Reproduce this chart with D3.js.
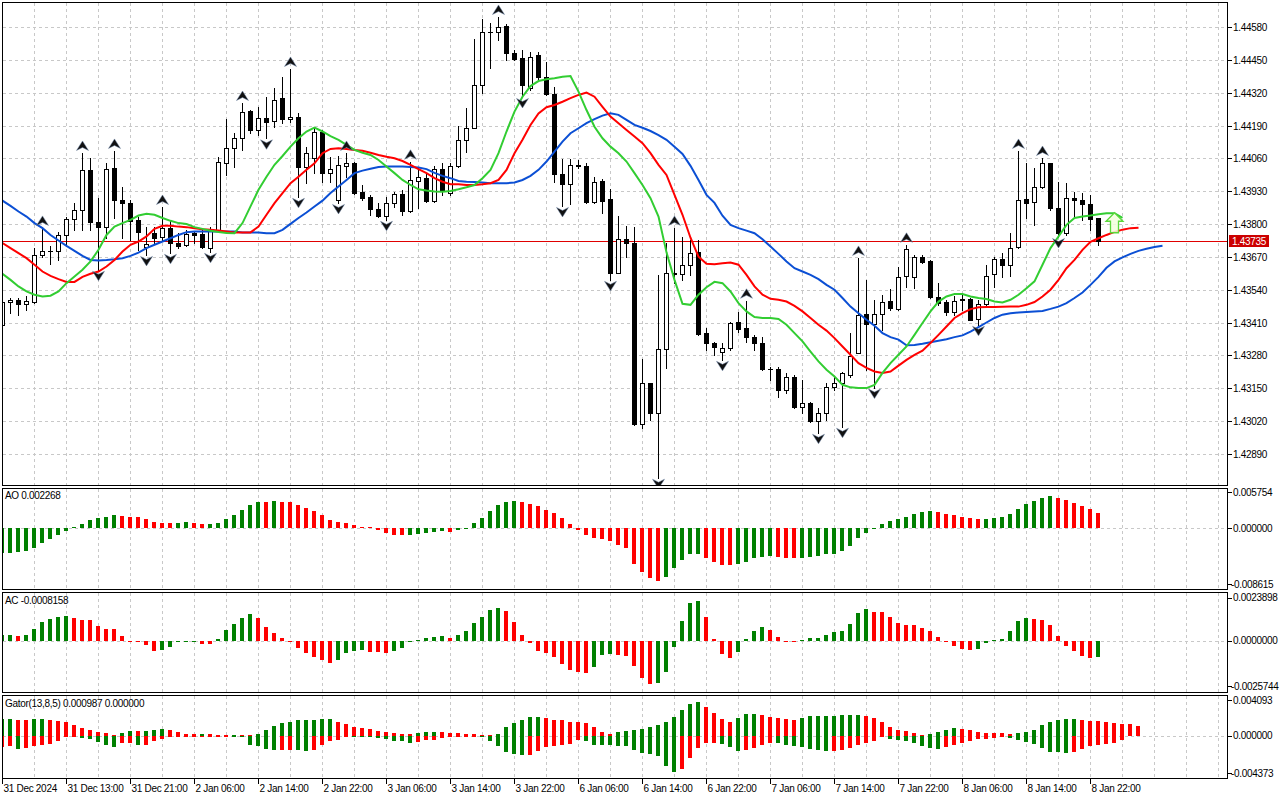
<!DOCTYPE html>
<html>
<head>
<meta charset="utf-8">
<script src="https://cdn.jsdelivr.net/npm/d3@7"></script>
<style>
html, body { margin: 0; padding: 0; background: #fff; }
svg text { font-family: "Liberation Sans", Arial, sans-serif; font-size: 10px; fill: #000; letter-spacing: -0.3px; }
</style>
</head>
<body>
<svg id="chart" width="1280" height="800"></svg>
<script>
// hourly candles, 31 Dec 2024 .. 8 Jan 23:00
const opens = [1.43401,1.43492,1.43501,1.43484,1.43490,1.43676,1.43694,1.43694,1.43757,1.43821,
1.43856,1.44015,1.43809,1.43789,1.44023,1.43896,1.43884,1.43817,1.43710,1.43765,
1.43749,1.43785,1.43726,1.43718,1.43765,1.43761,1.43706,1.43777,1.44043,1.44102,
1.44142,1.44248,1.44173,1.44221,1.44209,1.44300,1.44217,1.44225,1.44027,1.44062,
1.44165,1.44003,1.43896,1.44031,1.44043,1.43928,1.43908,1.43860,1.43833,1.43884,
1.43920,1.43852,1.43971,1.43983,1.43892,1.44019,1.43924,1.44031,1.44134,1.44181,
1.44351,1.44561,1.44561,1.44585,1.44478,1.44458,1.44340,1.44470,1.44383,1.44316,
1.43999,1.43959,1.44033,1.44031,1.43888,1.43971,1.43900,1.43607,1.43742,1.43726,
1.43009,1.43171,1.43053,1.43306,1.43603,1.43603,1.43639,1.43690,1.43369,1.43330,
1.43294,1.43310,1.43413,1.43389,1.43353,1.43330,1.43227,1.43227,1.43144,1.43195,
1.43076,1.43092,1.43021,1.43053,1.43155,1.43171,1.43203,1.43290,1.43445,1.43405,
1.43445,1.43496,1.43464,1.43595,1.43591,1.43670,1.43654,1.43512,1.43492,1.43453,
1.43504,1.43504,1.43425,1.43484,1.43603,1.43662,1.43639,1.43710,1.43900,1.43888,
1.43947,1.44043,1.43864,1.43765,1.43904,1.43896,1.43880,1.43825];
const highs = [1.43500,1.43508,1.43508,1.43516,1.43706,1.43785,1.43714,1.43769,1.43829,1.43884,
1.44082,1.44062,1.43904,1.44043,1.44090,1.43947,1.43896,1.43829,1.43789,1.43789,
1.43868,1.43817,1.43765,1.43777,1.43769,1.43777,1.43789,1.44066,1.44217,1.44161,
1.44280,1.44252,1.44264,1.44304,1.44340,1.44383,1.44415,1.44241,1.44106,1.44181,
1.44173,1.44066,1.44070,1.44082,1.44047,1.43955,1.43916,1.43884,1.43908,1.43928,
1.43936,1.44047,1.44023,1.44003,1.44031,1.44043,1.44043,1.44189,1.44260,1.44534,
1.44613,1.44597,1.44621,1.44593,1.44490,1.44490,1.44482,1.44482,1.44442,1.44343,
1.44058,1.44058,1.44054,1.44043,1.43987,1.43979,1.43940,1.43833,1.43793,1.43789,
1.43266,1.43171,1.43599,1.43726,1.43785,1.43749,1.43738,1.43738,1.43389,1.43334,
1.43330,1.43413,1.43453,1.43496,1.43361,1.43353,1.43235,1.43235,1.43211,1.43203,
1.43183,1.43096,1.43072,1.43171,1.43195,1.43215,1.43369,1.43666,1.43579,1.43500,
1.43520,1.43544,1.43631,1.43718,1.43678,1.43678,1.43658,1.43567,1.43500,1.43516,
1.43528,1.43508,1.43500,1.43639,1.43670,1.43686,1.43765,1.44090,1.44043,1.44023,
1.44062,1.44043,1.43967,1.43963,1.43928,1.43924,1.43916,1.43825];
const lows = [1.43393,1.43449,1.43441,1.43460,1.43488,1.43670,1.43643,1.43658,1.43714,1.43777,
1.43777,1.43777,1.43619,1.43746,1.43825,1.43746,1.43738,1.43698,1.43678,1.43726,
1.43738,1.43686,1.43706,1.43714,1.43726,1.43706,1.43690,1.43773,1.43995,1.44027,
1.44094,1.44161,1.44153,1.44140,1.44185,1.44201,1.44205,1.43908,1.43963,1.44003,
1.43967,1.43967,1.43884,1.43987,1.43920,1.43896,1.43837,1.43829,1.43817,1.43868,
1.43837,1.43848,1.43864,1.43888,1.43888,1.43916,1.43916,1.44027,1.44086,1.44181,
1.44320,1.44419,1.44530,1.44450,1.44450,1.44304,1.44332,1.44371,1.44312,1.43967,
1.43872,1.43880,1.44023,1.43884,1.43884,1.43845,1.43579,1.43607,1.43670,1.43005,
1.42993,1.43025,1.42795,1.43231,1.43567,1.43579,1.43599,1.43361,1.43302,1.43282,
1.43262,1.43302,1.43373,1.43334,1.43302,1.43223,1.43183,1.43116,1.43132,1.43072,
1.43053,1.43017,1.42973,1.43025,1.43144,1.42997,1.43195,1.43290,1.43223,1.43152,
1.43381,1.43460,1.43460,1.43551,1.43547,1.43647,1.43508,1.43480,1.43441,1.43441,
1.43460,1.43421,1.43401,1.43480,1.43551,1.43591,1.43595,1.43706,1.43825,1.43797,
1.43943,1.43856,1.43749,1.43757,1.43825,1.43817,1.43777,1.43718];
const closes = [1.43492,1.43500,1.43484,1.43496,1.43678,1.43694,1.43692,1.43757,1.43821,1.43856,
1.44015,1.43809,1.43789,1.44019,1.43896,1.43884,1.43813,1.43769,1.43722,1.43746,
1.43785,1.43726,1.43714,1.43761,1.43757,1.43710,1.43777,1.44046,1.44102,1.44142,
1.44245,1.44173,1.44221,1.44205,1.44292,1.44217,1.44225,1.44027,1.44082,1.44165,
1.44003,1.44019,1.44035,1.44043,1.43924,1.43904,1.43860,1.43833,1.43884,1.43920,
1.43852,1.43975,1.43987,1.43892,1.44019,1.43936,1.44031,1.44134,1.44181,1.44351,
1.44561,1.44563,1.44581,1.44478,1.44456,1.44351,1.44462,1.44383,1.44316,1.43999,
1.43959,1.44035,1.44031,1.43888,1.43967,1.43892,1.43607,1.43742,1.43726,1.43009,
1.43171,1.43053,1.43306,1.43607,1.43607,1.43639,1.43686,1.43365,1.43330,1.43314,
1.43310,1.43409,1.43385,1.43353,1.43330,1.43227,1.43225,1.43144,1.43195,1.43076,
1.43092,1.43021,1.43053,1.43155,1.43171,1.43211,1.43278,1.43441,1.43405,1.43445,
1.43492,1.43468,1.43591,1.43702,1.43670,1.43650,1.43512,1.43488,1.43453,1.43496,
1.43500,1.43421,1.43484,1.43595,1.43662,1.43639,1.43706,1.43896,1.43884,1.43947,
1.44043,1.43864,1.43765,1.43904,1.43896,1.43880,1.43821,1.43735];

// alligator lines as drawn (shift already applied)
const jaw = [1.43893,1.43872,1.43850,1.43830,1.43804,1.43784,1.43757,1.43735,1.43714,1.43694,
1.43674,1.43658,1.43656,1.43658,1.43661,1.43665,1.43674,1.43687,1.43705,1.43718,
1.43731,1.43744,1.43757,1.43768,1.43771,1.43771,1.43771,1.43771,1.43771,1.43771,
1.43767,1.43767,1.43767,1.43764,1.43764,1.43777,1.43801,1.43824,1.43846,1.43870,
1.43893,1.43923,1.43949,1.43975,1.44002,1.44012,1.44019,1.44026,1.44028,1.44028,
1.44028,1.44026,1.44024,1.44018,1.44003,1.43991,1.43982,1.43971,1.43968,1.43967,
1.43965,1.43962,1.43962,1.43962,1.43965,1.43975,1.43991,1.44015,1.44048,1.44087,
1.44127,1.44160,1.44180,1.44200,1.44216,1.44230,1.44239,1.44233,1.44213,1.44193,
1.44182,1.44169,1.44153,1.44134,1.44107,1.44078,1.44031,1.43975,1.43916,1.43884,
1.43833,1.43797,1.43784,1.43774,1.43764,1.43740,1.43711,1.43682,1.43652,1.43625,
1.43612,1.43599,1.43582,1.43559,1.43540,1.43507,1.43473,1.43447,1.43421,1.43397,
1.43368,1.43352,1.43342,1.43320,1.43321,1.43326,1.43332,1.43338,1.43344,1.43352,
1.43359,1.43374,1.43392,1.43410,1.43428,1.43441,1.43447,1.43450,1.43452,1.43454,
1.43456,1.43464,1.43473,1.43487,1.43507,1.43529,1.43559,1.43591,1.43627,1.43652,
1.43668,1.43682,1.43694,1.43702,1.43709,1.43714];
const teeth = [1.43725,1.43705,1.43685,1.43665,1.43639,1.43612,1.43595,1.43582,1.43571,1.43571,
1.43591,1.43603,1.43612,1.43632,1.43658,1.43691,1.43718,1.43731,1.43751,1.43781,
1.43793,1.43793,1.43790,1.43788,1.43784,1.43780,1.43778,1.43775,1.43771,1.43767,
1.43767,1.43767,1.43790,1.43837,1.43883,1.43923,1.43962,1.43988,1.44015,1.44041,
1.44081,1.44098,1.44101,1.44098,1.44094,1.44091,1.44083,1.44074,1.44067,1.44061,
1.44050,1.44035,1.44018,1.44002,1.43982,1.43968,1.43958,1.43958,1.43955,1.43955,
1.43958,1.43962,1.43975,1.44015,1.44081,1.44134,1.44193,1.44239,1.44263,1.44272,
1.44285,1.44299,1.44312,1.44321,1.44305,1.44265,1.44226,1.44200,1.44173,1.44147,
1.44121,1.44081,1.44035,1.43995,1.43916,1.43837,1.43746,1.43671,1.43643,1.43641,
1.43645,1.43648,1.43639,1.43599,1.43553,1.43520,1.43504,1.43500,1.43493,1.43476,
1.43454,1.43428,1.43401,1.43378,1.43348,1.43315,1.43282,1.43249,1.43230,1.43216,
1.43210,1.43216,1.43239,1.43262,1.43282,1.43298,1.43329,1.43361,1.43394,1.43428,
1.43447,1.43463,1.43470,1.43471,1.43471,1.43472,1.43473,1.43473,1.43480,1.43491,
1.43513,1.43540,1.43579,1.43625,1.43658,1.43698,1.43730,1.43744,1.43757,1.43769,
1.43778,1.43784,1.43786];
const lips = [1.43603,1.43579,1.43553,1.43533,1.43520,1.43513,1.43516,1.43533,1.43566,1.43592,
1.43619,1.43652,1.43698,1.43757,1.43790,1.43804,1.43817,1.43834,1.43841,1.43837,
1.43824,1.43813,1.43804,1.43800,1.43788,1.43781,1.43774,1.43769,1.43765,1.43764,
1.43804,1.43870,1.43936,1.43988,1.44035,1.44070,1.44107,1.44140,1.44167,1.44182,
1.44167,1.44149,1.44134,1.44114,1.44094,1.44083,1.44074,1.44054,1.44028,1.44002,
1.43975,1.43955,1.43938,1.43933,1.43929,1.43928,1.43931,1.43938,1.43946,1.43955,
1.43982,1.44015,1.44081,1.44167,1.44246,1.44305,1.44347,1.44367,1.44374,1.44378,
1.44384,1.44387,1.44325,1.44252,1.44186,1.44140,1.44107,1.44081,1.44048,1.44002,
1.43955,1.43903,1.43830,1.43688,1.43579,1.43484,1.43480,1.43520,1.43550,1.43571,
1.43566,1.43533,1.43487,1.43454,1.43432,1.43428,1.43428,1.43424,1.43401,1.43368,
1.43335,1.43295,1.43256,1.43223,1.43196,1.43163,1.43153,1.43150,1.43150,1.43163,
1.43210,1.43249,1.43282,1.43315,1.43361,1.43408,1.43454,1.43493,1.43513,1.43523,
1.43523,1.43513,1.43507,1.43503,1.43493,1.43489,1.43500,1.43520,1.43546,1.43573,
1.43639,1.43705,1.43751,1.43797,1.43824,1.43830,1.43834,1.43839,1.43843,1.43843,
1.43825];

const fractalUp = [5,10,14,20,30,36,43,51,62,84,93,107,113,127,130];
const fractalDown = [12,18,21,26,33,37,42,48,65,70,76,82,90,102,105,109,122,132];
const signalArrow = { bar: 139, price: 1.43845 };
const lastPrice = 1.43735;

const ao = [-0.00354,-0.00345,-0.00342,-0.00316,-0.00274,-0.00203,-0.00152,-0.00095,-0.00033,0.00018,
0.00057,0.00123,0.00146,0.00160,0.00189,0.00174,0.00160,0.00158,0.00132,0.00085,
0.00075,0.00074,0.00081,0.00089,0.00075,0.00061,0.00067,0.00081,0.00138,0.00189,
0.00269,0.00330,0.00379,0.00376,0.00387,0.00379,0.00376,0.00330,0.00294,0.00245,
0.00189,0.00123,0.00089,0.00075,0.00043,0.00018,0.00010,-0.00028,-0.00071,-0.00095,
-0.00097,-0.00089,-0.00075,-0.00067,-0.00057,-0.00038,-0.00047,-0.00018,-0.00004,0.00081,
0.00146,0.00251,0.00330,0.00379,0.00397,0.00373,0.00345,0.00322,0.00269,0.00213,
0.00142,0.00057,-0.00018,-0.00095,-0.00132,-0.00152,-0.00174,-0.00237,-0.00274,-0.00506,
-0.00614,-0.00699,-0.00742,-0.00685,-0.00557,-0.00449,-0.00369,-0.00364,-0.00415,-0.00472,
-0.00520,-0.00523,-0.00510,-0.00472,-0.00425,-0.00401,-0.00393,-0.00411,-0.00415,-0.00418,
-0.00415,-0.00401,-0.00387,-0.00367,-0.00362,-0.00316,-0.00245,-0.00142,-0.00061,-0.00014,
0.00061,0.00109,0.00138,0.00156,0.00203,0.00237,0.00251,0.00231,0.00199,0.00189,
0.00160,0.00146,0.00132,0.00138,0.00146,0.00156,0.00203,0.00274,0.00345,0.00393,
0.00435,0.00458,0.00435,0.00401,0.00364,0.00316,0.00274,0.002268];
const ac = [0.00027,0.00031,0.00025,0.00031,0.00061,0.00097,0.00112,0.00122,0.00124,0.00114,
0.00107,0.00106,0.00076,0.00061,0.00060,0.00025,-0.00002,-0.00007,-0.00024,-0.00051,
-0.00046,-0.00031,-0.00009,-0.00005,-0.00002,-0.00015,-0.00016,0.00010,0.00056,0.00087,
0.00117,0.00138,0.00117,0.00071,0.00041,0.00014,-0.00003,-0.00036,-0.00061,-0.00082,
-0.00100,-0.00116,-0.00097,-0.00065,-0.00051,-0.00046,-0.00056,-0.00057,-0.00061,-0.00051,
-0.00036,-0.00009,0.00005,0.00015,0.00020,0.00025,0.00015,0.00031,0.00051,0.00088,
0.00122,0.00158,0.00168,0.00153,0.00097,0.00031,-0.00014,-0.00051,-0.00061,-0.00082,
-0.00117,-0.00148,-0.00158,-0.00163,-0.00133,-0.00075,-0.00066,-0.00075,-0.00076,-0.00129,
-0.00192,-0.00219,-0.00214,-0.00158,-0.00031,0.00100,0.00190,0.00202,0.00119,0.00007,
-0.00068,-0.00087,-0.00056,0.00007,0.00049,0.00068,0.00055,0.00020,-0.00005,-0.00009,
0.00004,0.00012,0.00015,0.00029,0.00046,0.00051,0.00087,0.00143,0.00162,0.00148,
0.00147,0.00119,0.00092,0.00080,0.00079,0.00063,0.00049,0.00019,-0.00009,-0.00025,
-0.00044,-0.00047,-0.00044,-0.00014,0.00004,0.00007,0.00049,0.00100,0.00114,0.00113,
0.00106,0.00080,0.00024,-0.00027,-0.00051,-0.00078,-0.00087,-0.0008158];
const gatorUp = [0.00173,0.00175,0.00165,0.00164,0.00175,0.00176,0.00165,0.00155,0.00141,0.00114,
0.00083,0.00062,0.00041,0.00028,0.00010,0.00031,0.00052,0.00050,0.00052,0.00062,
0.00072,0.00062,0.00041,0.00021,0.00020,0.00021,0.00019,0.00007,0.00003,0.00004,
0.00002,0.00001,0.00021,0.00062,0.00103,0.00134,0.00144,0.00158,0.00165,0.00166,
0.00175,0.00176,0.00144,0.00124,0.00093,0.00083,0.00072,0.00052,0.00041,0.00031,
0.00021,0.00015,0.00031,0.00034,0.00041,0.00040,0.00031,0.00028,0.00021,0.00020,
0.00010,0.00005,0.00021,0.00093,0.00134,0.00165,0.00196,0.00197,0.00186,0.00165,
0.00164,0.00144,0.00143,0.00134,0.00093,0.00041,0.00021,0.00034,0.00049,0.00059,
0.00072,0.00093,0.00114,0.00144,0.00196,0.00265,0.00327,0.00348,0.00299,0.00230,
0.00172,0.00144,0.00186,0.00220,0.00227,0.00214,0.00196,0.00179,0.00168,0.00167,
0.00179,0.00206,0.00207,0.00208,0.00209,0.00213,0.00214,0.00215,0.00206,0.00179,
0.00144,0.00093,0.00059,0.00049,0.00024,0.00008,0.00013,0.00041,0.00059,0.00075,
0.00074,0.00059,0.00041,0.00031,0.00030,0.00024,0.00023,0.00025,0.00038,0.00059,
0.00110,0.00137,0.00162,0.00172,0.00173,0.00165,0.00152,0.00151,0.00144,0.00134,
0.00124,0.00123,0.000987];
const gatorDown = [-0.00117,-0.00108,-0.00134,-0.00127,-0.00110,-0.00093,-0.00083,-0.00052,-0.00010,-0.00008,
-0.00021,-0.00038,-0.00062,-0.00100,-0.00114,-0.00072,-0.00070,-0.00100,-0.00093,-0.00052,
-0.00031,-0.00015,-0.00010,-0.00007,-0.00005,-0.00003,-0.00002,-0.000015,-0.00001,-0.00005,
-0.00007,-0.00093,-0.00110,-0.00134,-0.00152,-0.00150,-0.00144,-0.00152,-0.00155,-0.00144,
-0.00093,-0.00052,-0.00041,-0.00010,-0.00011,-0.00012,-0.00015,-0.00028,-0.00029,-0.00052,
-0.00059,-0.00072,-0.00062,-0.00049,-0.00041,-0.00021,-0.00018,-0.00010,-0.00007,-0.00003,
-0.00010,-0.00059,-0.00110,-0.00172,-0.00186,-0.00203,-0.00196,-0.00162,-0.00117,-0.00110,
-0.00093,-0.00083,-0.00049,-0.00050,-0.00093,-0.00094,-0.00095,-0.00110,-0.00111,-0.00148,
-0.00175,-0.00186,-0.00206,-0.00310,-0.00372,-0.00344,-0.00230,-0.00130,-0.00080,-0.00075,
-0.00083,-0.00119,-0.00155,-0.00144,-0.00124,-0.00093,-0.00077,-0.00078,-0.00093,-0.00108,
-0.00119,-0.00134,-0.00144,-0.00155,-0.00153,-0.00152,-0.00129,-0.00099,-0.00080,-0.00052,
-0.00005,-0.00033,-0.00043,-0.00053,-0.00079,-0.00110,-0.00125,-0.00132,-0.00119,-0.00095,
-0.00076,-0.00050,-0.00037,-0.00032,-0.00022,-0.00017,-0.00027,-0.00047,-0.00066,-0.00082,
-0.00126,-0.00165,-0.00172,-0.00173,-0.00166,-0.00132,-0.00104,-0.00095,-0.00086,-0.00074,
-0.00047];

const priceTicks = [1.44580,1.44450,1.44320,1.44190,1.44060,1.43930,1.43800,1.43670,1.43540,1.43410,1.43280,1.43150,1.43020,1.42890];
const timeLabels = ['31 Dec 2024','31 Dec 13:00','31 Dec 21:00','2 Jan 06:00','2 Jan 14:00','2 Jan 22:00',
  '3 Jan 06:00','3 Jan 14:00','3 Jan 22:00','6 Jan 06:00','6 Jan 14:00','6 Jan 22:00',
  '7 Jan 06:00','7 Jan 14:00','7 Jan 22:00','8 Jan 06:00','8 Jan 14:00','8 Jan 22:00'];
const aoScale = [-0.008615, 0.005754];
const acScale = [-0.0025744, 0.0023898];
const gatorScale = [-0.004373, 0.004093];

const GREEN = '#008000', RED = '#ff0000';
const svg = d3.select('#chart');

const x = d3.scaleLinear().domain([0, 153]).range([2, 1226]);
const cx = i => x(i) + 0.5;
const yPrice = d3.scaleLinear().domain([1.42890, 1.44580]).range([453.7, 27.3]);
const yAO = d3.scaleLinear().domain(aoScale).range([589, 488]);
const yAC = d3.scaleLinear().domain(acScale).range([691.2, 593.8]);
const yG = d3.scaleLinear().domain(gatorScale).range([778.1, 696.1]);
const snap = v => Math.round(v) + 0.5;

const panels = [
  {id: 'main', top: 2, bottom: 485},
  {id: 'ao', top: 488, bottom: 589},
  {id: 'ac', top: 592, bottom: 692},
  {id: 'gator', top: 695, bottom: 778}
];

const defs = svg.append('defs');
panels.forEach(p => {
  defs.append('clipPath').attr('id', 'clip-' + p.id)
    .append('rect').attr('x', 3).attr('y', p.top + 1).attr('width', 1224).attr('height', p.bottom - p.top - 1);
});

// grid
const grid = svg.append('g').attr('stroke', '#c8c8c8').attr('stroke-dasharray', '3,3').attr('stroke-width', 1);
panels.forEach(p => {
  d3.range(1, 39).forEach(k => {
    grid.append('line').attr('x1', cx(4 * k)).attr('x2', cx(4 * k)).attr('y1', p.top + 1).attr('y2', p.bottom);
  });
});
priceTicks.forEach(t => {
  grid.append('line').attr('x1', 3).attr('x2', 1227).attr('y1', snap(yPrice(t))).attr('y2', snap(yPrice(t)));
});
[yAO, yAC, yG].forEach(s => {
  grid.append('line').attr('x1', 3).attr('x2', 1227).attr('y1', snap(s(0))).attr('y2', snap(s(0)));
});

// current price line
svg.append('rect').attr('x', 3).attr('y', Math.round(yPrice(lastPrice)))
  .attr('width', 1224).attr('height', 1).attr('fill', '#e00000');

// candles
const candles = svg.append('g').attr('clip-path', 'url(#clip-main)').attr('shape-rendering', 'crispEdges');
opens.forEach((o, i) => {
  const c = closes[i];
  const g = candles.append('g');
  g.append('line').attr('x1', cx(i)).attr('x2', cx(i))
    .attr('y1', Math.round(yPrice(highs[i]))).attr('y2', Math.round(yPrice(lows[i])) + 1)
    .attr('stroke', '#000');
  const top = Math.round(yPrice(Math.max(o, c)));
  const bot = Math.round(yPrice(Math.min(o, c)));
  if (bot - top < 1) {
    g.append('line').attr('x1', cx(i) - 2.5).attr('x2', cx(i) + 2.5)
      .attr('y1', top + 0.5).attr('y2', top + 0.5).attr('stroke', '#000');
  } else {
    g.append('rect').attr('x', cx(i) - 2).attr('y', top + 0.5)
      .attr('width', 4).attr('height', bot - top)
      .attr('fill', c >= o ? '#fff' : '#000').attr('stroke', '#000');
  }
});

// alligator
const lineGen = d3.line().x((d, i) => x(i) + 0.5).y(d => yPrice(d));
const gators = svg.append('g').attr('clip-path', 'url(#clip-main)').attr('fill', 'none').attr('stroke-width', 2);
gators.append('path').attr('d', lineGen(jaw)).attr('stroke', '#0b4fd4');
gators.append('path').attr('d', lineGen(teeth)).attr('stroke', '#ff0000');
gators.append('path').attr('d', lineGen(lips)).attr('stroke', '#32cd32');

// fractals
const fr = svg.append('g').attr('clip-path', 'url(#clip-main)').attr('fill', '#111').attr('stroke', '#6f86a8').attr('stroke-width', 0.5);
fractalUp.forEach(i => {
  fr.append('path').attr('transform', `translate(${cx(i)},${yPrice(highs[i])})`)
    .attr('d', 'M0,-12L6,-2.5L0,-5.5L-6,-2.5Z');
});
fractalDown.forEach(i => {
  fr.append('path').attr('transform', `translate(${cx(i)},${yPrice(lows[i])})`)
    .attr('d', 'M0,11L6,1.5L0,4.5L-6,1.5Z');
});

// signal arrow
svg.append('path')
  .attr('transform', `translate(${cx(signalArrow.bar)},${yPrice(signalArrow.price)})`)
  .attr('d', 'M0,0L8.5,8.5L4,8.5L4,20L-4,20L-4,8.5L-8.5,8.5Z')
  .attr('fill', '#f2ffdc').attr('fill-opacity', 0.85)
  .attr('stroke', '#5ad83a').attr('stroke-width', 1.3);

// histograms
function histogram(values, scale, clipId, colorFn) {
  const g = svg.append('g').attr('clip-path', 'url(#clip-' + clipId + ')').attr('shape-rendering', 'crispEdges');
  const z = Math.round(scale(0));
  values.forEach((v, i) => {
    const yv = Math.round(scale(v));
    let y0 = Math.min(z, yv), h = Math.abs(yv - z);
    if (h < 1) { h = 1; if (v < 0) y0 = z; else y0 = z - 1; }
    g.append('rect').attr('x', x(i) - 2).attr('y', y0).attr('width', 4).attr('height', h)
      .attr('fill', colorFn(v, i));
  });
}
histogram(ao, yAO, 'ao', (v, i) => (i === 0 || v > ao[i - 1]) ? GREEN : RED);
histogram(ac, yAC, 'ac', (v, i) => (i === 0 || v > ac[i - 1]) ? GREEN : RED);
histogram(gatorUp, yG, 'gator', (v, i) => (i === 0 || v > gatorUp[i - 1]) ? GREEN : RED);
histogram(gatorDown, yG, 'gator', (v, i) => (i > 0 && Math.abs(v) > Math.abs(gatorDown[i - 1])) ? GREEN : RED);

// frames
const frames = svg.append('g').attr('fill', 'none').attr('stroke', '#000').attr('shape-rendering', 'crispEdges');
panels.forEach(p => {
  frames.append('rect').attr('x', 2.5).attr('y', p.top + 0.5).attr('width', 1225).attr('height', p.bottom - p.top);
});

// right axis: main prices
const axis = svg.append('g');
priceTicks.forEach(t => {
  const yy = snap(yPrice(t));
  axis.append('line').attr('x1', 1228).attr('x2', 1232).attr('y1', yy).attr('y2', yy).attr('stroke', '#000');
  axis.append('text').attr('x', 1233).attr('y', yy + 3.5).text(t.toFixed(5));
});
// last price tag
const ly = yPrice(lastPrice);
axis.append('rect').attr('x', 1229).attr('y', Math.round(ly) - 6).attr('width', 40).attr('height', 12).attr('fill', '#cc0000');
axis.append('text').attr('x', 1232).attr('y', Math.round(ly) + 4).style('fill', '#fff').text(lastPrice.toFixed(5));

// right axis: indicators
function indicatorAxis(scale, dom, digits) {
  const items = [
    {v: dom[1], y: scale(dom[1]) + 7.5},
    {v: 0, y: scale(0) + 3.5},
    {v: dom[0], y: scale(dom[0]) - 1.5}
  ];
  items.forEach(d => {
    axis.append('line').attr('x1', 1228).attr('x2', 1232)
      .attr('y1', snap(d.y - 3.5)).attr('y2', snap(d.y - 3.5)).attr('stroke', '#000');
    axis.append('text').attr('x', d.v < 0 ? 1231 : 1233).attr('y', d.y).text(d.v.toFixed(digits));
  });
}
indicatorAxis(yAO, aoScale, 6);
indicatorAxis(yAC, acScale, 7);
indicatorAxis(yG, gatorScale, 6);

// indicator titles
axis.append('text').attr('x', 5).attr('y', 499).text('AO ' + ao[ao.length - 1].toFixed(6));
axis.append('text').attr('x', 5).attr('y', 604).text('AC ' + ac[ac.length - 1].toFixed(7));
axis.append('text').attr('x', 5).attr('y', 707)
  .text('Gator(13,8,5) ' + gatorUp[gatorUp.length - 1].toFixed(6) + ' 0.000000');

// time axis
timeLabels.forEach((lab, k) => {
  const xx = cx(8 * k);
  axis.append('line').attr('x1', xx).attr('x2', xx).attr('y1', 779).attr('y2', 784).attr('stroke', '#000');
  axis.append('text').attr('x', xx + 1).attr('y', 792).text(lab);
});
</script>
</body>
</html>
